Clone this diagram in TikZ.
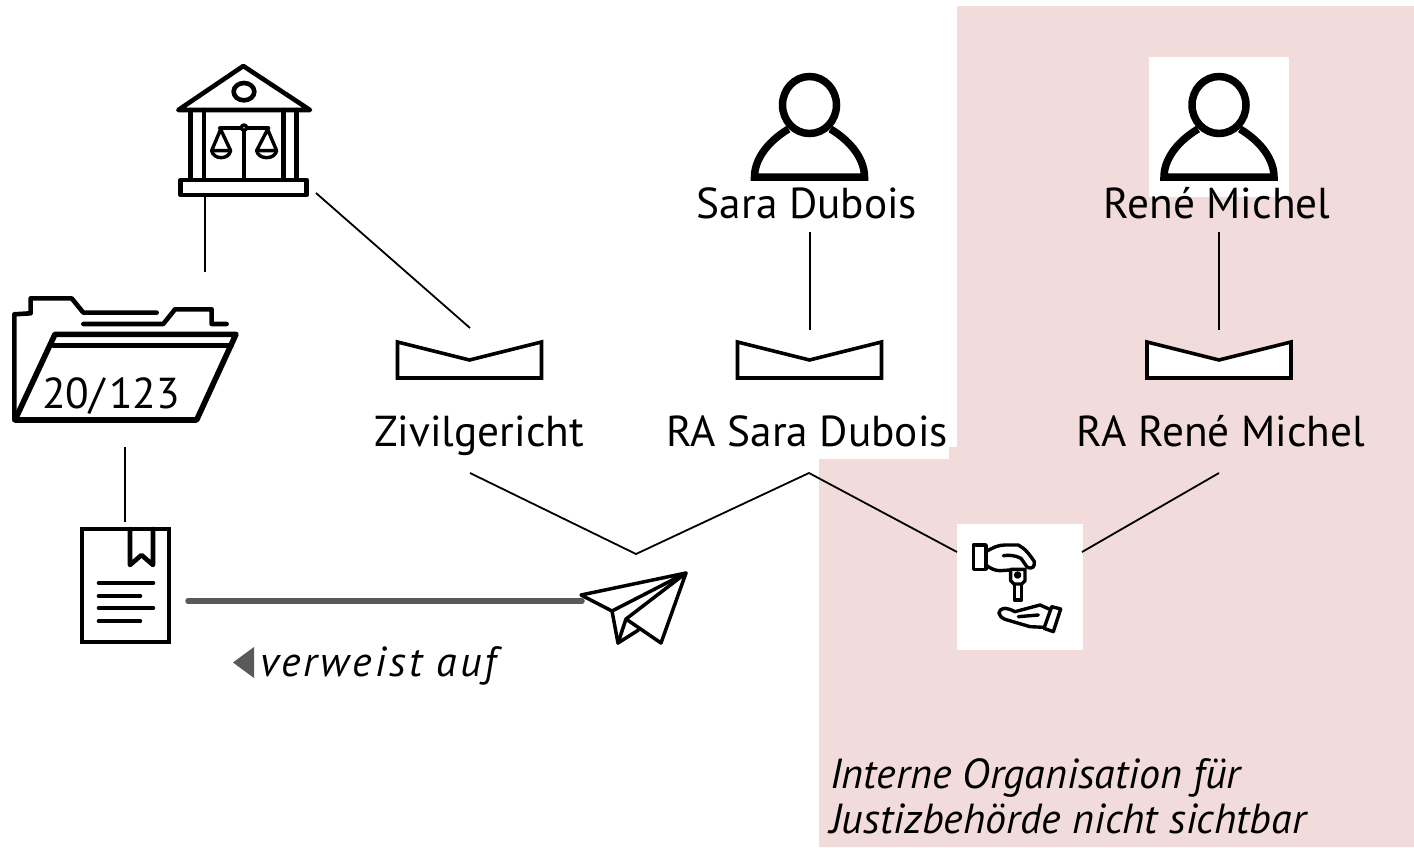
\documentclass[tikz,border=0pt]{standalone}
\usepackage{fontspec}
\setmainfont{PT Sans}
\tikzset{
 lab/.style={inner sep=0pt,anchor=base,font=\fontsize{43.3}{50}\selectfont},
 note/.style={inner sep=0pt,anchor=base west,font=\fontsize{42}{48}\selectfont\itshape},
 conn/.style={draw=black,line width=1.8pt},
 icon/.style={draw=black,line width=4.6pt,line join=round,line cap=round},
 thin icon/.style={draw=black,line width=3.4pt,line join=round,line cap=round},
 personicon/.style={draw=black,line width=7.5pt},
 mail/.style={draw=black,line width=3.6pt,line join=miter},
}
\definecolor{pinkbg}{HTML}{F1DCDB}
\definecolor{greyline}{HTML}{595959}
\newcommand{\personat}[2]{%
 \begin{scope}[shift={(#1,#2)}]
  \draw[personicon] (-21,24) .. controls (-44,38) and (-55,56) .. (-55,72) -- (55,72) .. controls (55,56) and (44,38) .. (21,24);
  \draw[personicon,fill=white] (0,0) ellipse [x radius=27,y radius=28.5];
 \end{scope}}
\newcommand{\mailat}[1]{%
 \draw[mail,fill=white] (#1-72,342) -- (#1,360) -- (#1+72,342) -- (#1+72,378) -- (#1-72,378) -- cycle;}
\begin{document}
\begin{tikzpicture}[x=1pt,y=-1pt]
\useasboundingbox (0,0) rectangle (1414,847);
\fill[white] (0,0) rectangle (1414,847);
\fill[pinkbg] (957,6) -- (1414,6) -- (1414,847) -- (819,847) -- (819,459) -- (949,459) -- (949,447) -- (957,447) -- cycle;
\fill[white] (1149,57) rectangle (1289,197);
\fill[white] (957,524) rectangle (1083,650);

% court
\begin{scope}[shift={(0,50)},x=0.3333pt,y=-0.3333pt]
 \draw[icon] (535,180) -- (730,48) -- (930,180) -- cycle;
 \draw[icon] (732,125) ellipse [x radius=31,y radius=26];
 \draw[icon] (572,180) -- (572,390) (612,180) -- (612,390) (850,180) -- (850,390) (890,180) -- (890,390);
 \draw[icon,fill=white] (542,390) rectangle (920,435);
 \draw[thin icon,line width=4pt] (660,235) -- (805,235) (732,235) -- (732,390);
 \draw[thin icon,fill=white] (732,233) circle (8);
 \draw[thin icon] (662,238) -- (635,302) -- (692,302) -- cycle;
 \draw[thin icon] (635,302) .. controls (640,330) and (687,330) .. (692,302);
 \draw[thin icon] (803,238) -- (770,302) -- (830,302) -- cycle;
 \draw[thin icon] (770,302) .. controls (775,330) and (825,330) .. (830,302);
\end{scope}
% folder
\begin{scope}[shift={(0,50)},x=0.3333pt,y=-0.3333pt]
 \draw[icon] (43,1110) -- (43,793) -- (92,790) -- (92,745) -- (215,745) -- (250,788) -- (470,788);
 \draw[icon] (250,822) -- (490,822) -- (525,778) -- (635,778) -- (635,822) -- (680,822);
 \draw[icon,line width=5.6pt] (165,853) -- (708,853) -- (590,1110) -- (45,1110) -- cycle;
 \draw[icon] (160,887) -- (695,887);
\end{scope}
\node[lab] (casenr) at (111,408) {20/\hspace{0.1em}123};
% document
\draw[icon,line cap=butt,line join=miter] (82,529) rectangle (169,642);
\draw[icon] (130,529) -- (130,565) -- (141.5,555) -- (153,565) -- (153,529);
\draw[icon] (99,583) -- (153,583) (99,596) -- (140,596) (99,608) -- (153,608) (99,621) -- (140,621);
% plane
\draw[thin icon,line width=3.5pt] (686,573) -- (581,595) -- (612,611) -- cycle;
\draw[thin icon,line width=3.5pt] (612,611) -- (618,643) -- (638.5,630);
\draw[thin icon,line width=3.5pt] (618,643) -- (626,619);
\draw[thin icon,line width=3.5pt] (686,573) -- (626,619) -- (661,643) -- cycle;
% persons
\personat{809.5}{105}
\personat{1219}{105}
% mails
\mailat{809.5}
\mailat{1219}
\mailat{469.5}
% keys
\begin{scope}[shift={(940,510)},x=0.3333pt,y=-0.3333pt]
 \draw[thin icon] (100,105) rectangle (138,178);
 \draw[thin icon] (138,125) .. controls (160,112) and (175,105) .. (195,105) -- (235,105) .. controls (255,115) and (270,135) .. (283,155) .. controls (285,172) and (275,178) .. (262,172) -- (243,145) .. controls (225,135) and (205,135) .. (190,137);
 \draw[thin icon] (138,165) .. controls (150,175) and (165,182) .. (180,182) -- (210,180);
 \draw[thin icon] (212,178) -- (255,178) -- (255,212) -- (245,222) -- (222,222) -- (212,212) -- cycle;
 \draw[thin icon] (233,195) circle (6);
 \draw[thin icon] (223,222) -- (223,270) -- (245,270) -- (245,222);
 \draw[thin icon] (335,290) -- (362,297) -- (340,365) -- (312,355) -- cycle;
 \draw[thin icon] (327,297) -- (300,285) -- (225,305) .. controls (215,300) and (205,295) .. (195,295) .. controls (170,298) and (172,318) .. (195,328) -- (270,350) -- (312,352);
 \draw[thin icon] (235,320) -- (295,315);
\end{scope}
% labels
\node[lab] (sara) at (807,218.5) {Sara Dubois};
\node[lab] (rene) at (1217,218.5) {René Michel};
\node[lab] (zivil) at (479,446.5) {Zivilgericht};
\node[lab] (rasara) at (807,446.5) {RA Sara Dubois};
\node[lab] (rarene) at (1221,446.5) {RA René Michel};
\node[note] (verweist) at (260,676) {\addfontfeature{LetterSpace=7.5}verweist auf};
\node[note] (intern1) at (830,788) {Interne Organisation für};
\node[note] (intern2) at (830,833) {Justizbehörde nicht sichtbar};
% connectors
\coordinate (courtA) at (205,195); \coordinate (folderTop) at (205,272);
\coordinate (courtB) at (316,193); \coordinate (zivilTop) at (470,328);
\coordinate (saraA) at (810,232); \coordinate (saraB) at (810,330);
\coordinate (reneA) at (1219,232); \coordinate (reneB) at (1219,330);
\coordinate (folderB) at (125,447); \coordinate (docTop) at (125,522);
\coordinate (zivilB) at (470,473); \coordinate (joint) at (636,554); \coordinate (saraC) at (809,473);
\coordinate (keyL) at (957,552); \coordinate (keyR) at (1082,552); \coordinate (reneC) at (1219,473);
\coordinate (docR) at (188,601); \coordinate (planeL) at (582,601);
\draw[conn] (courtA) -- (folderTop);
\draw[conn] (courtB) -- (zivilTop);
\draw[conn] (saraA) -- (saraB);
\draw[conn] (reneA) -- (reneB);
\draw[conn] (folderB) -- (docTop);
\draw[conn,line join=miter] (zivilB) -- (joint) -- (saraC) -- (keyL);
\draw[conn] (keyR) -- (reneC);
\draw[greyline,line width=5.5pt,line cap=round] (docR) -- (planeL);
\fill[greyline] (233,662.5) -- (254,647) -- (254,678) -- cycle;
\end{tikzpicture}
\end{document}
